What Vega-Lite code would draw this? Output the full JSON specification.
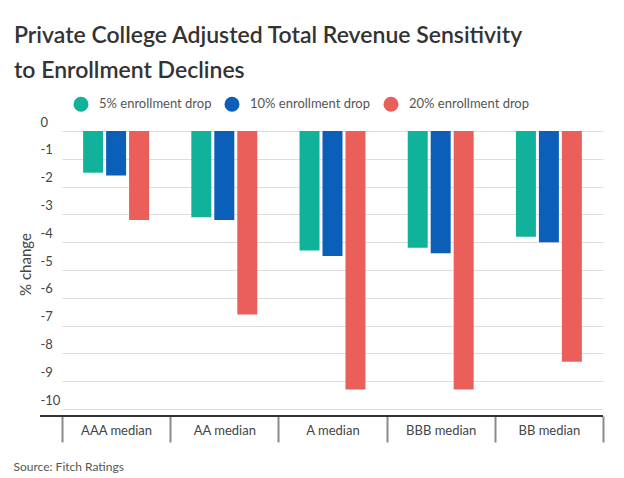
{
  "$schema": "https://vega.github.io/schema/vega-lite/v6.json",
  "width": 563,
  "height": 285,
  "autosize": "none",
  "padding": {"left": 40, "top": 131, "right": 21, "bottom": 62},
  "background": "#ffffff",
  "title": {
    "text": ["Private College Adjusted Total Revenue Sensitivity", "to Enrollment Declines"],
    "anchor": "start",
    "frame": "group",
    "dx": -26,
    "dy": -9,
    "fontSize": 23,
    "fontWeight": 600,
    "color": "#333333",
    "lineHeight": 35
  },
  "data": {
    "values": [
      {"rating": "AAA median", "scenario": "5% enrollment drop", "change": -1.5},
      {"rating": "AAA median", "scenario": "10% enrollment drop", "change": -1.6},
      {"rating": "AAA median", "scenario": "20% enrollment drop", "change": -3.2},
      {"rating": "AA median", "scenario": "5% enrollment drop", "change": -3.1},
      {"rating": "AA median", "scenario": "10% enrollment drop", "change": -3.2},
      {"rating": "AA median", "scenario": "20% enrollment drop", "change": -6.6},
      {"rating": "A median", "scenario": "5% enrollment drop", "change": -4.3},
      {"rating": "A median", "scenario": "10% enrollment drop", "change": -4.5},
      {"rating": "A median", "scenario": "20% enrollment drop", "change": -9.3},
      {"rating": "BBB median", "scenario": "5% enrollment drop", "change": -4.2},
      {"rating": "BBB median", "scenario": "10% enrollment drop", "change": -4.4},
      {"rating": "BBB median", "scenario": "20% enrollment drop", "change": -9.3},
      {"rating": "BB median", "scenario": "5% enrollment drop", "change": -3.8},
      {"rating": "BB median", "scenario": "10% enrollment drop", "change": -4.0},
      {"rating": "BB median", "scenario": "20% enrollment drop", "change": -8.3}
    ]
  },
  "layer": [
    {
      "mark": {"type": "bar"},
      "encoding": {
        "x": {
          "field": "rating",
          "type": "nominal",
          "sort": null,
          "scale": {"range": [22, 563], "paddingInner": 0, "paddingOuter": 0},
          "axis": {
            "domain": false,
            "tickBand": "extent",
            "tickSize": 26,
            "tickColor": "#8a8a8a",
            "tickWidth": 2,
            "labelPadding": -12,
            "labelBaseline": "middle",
            "labelFontSize": 13,
            "labelColor": "#444444",
            "labelAngle": 0,
            "title": "Source: Fitch Ratings",
            "titleAnchor": "start",
            "titleAlign": "left",
            "titleBaseline": "middle",
            "titleX": -27,
            "titleY": 50,
            "titleFontSize": 12,
            "titleFontWeight": "normal",
            "titleColor": "#555555"
          }
        },
        "xOffset": {
          "field": "scenario",
          "type": "nominal",
          "sort": ["5% enrollment drop", "10% enrollment drop", "20% enrollment drop"],
          "scale": {"paddingInner": 0.13, "paddingOuter": 0.92}
        },
        "y": {
          "field": "change",
          "type": "quantitative",
          "scale": {"domain": [-10.25, 0], "nice": false},
          "axis": {
            "values": [0, -1, -2, -3, -4, -5, -6, -7, -8, -9, -10],
            "labelExpr": "'' + datum.value",
            "labelOverlap": false,
            "title": "% change"
          }
        },
        "color": {
          "field": "scenario",
          "type": "nominal",
          "title": null,
          "scale": {
            "domain": ["5% enrollment drop", "10% enrollment drop", "20% enrollment drop"],
            "range": ["#10b39a", "#0b5fb8", "#eb5f5a"]
          },
          "legend": {
            "orient": "none",
            "direction": "horizontal",
            "legendX": 33,
            "legendY": -35,
            "symbolType": "circle",
            "symbolSize": 227,
            "symbolStrokeWidth": 0,
            "labelFontSize": 13,
            "labelColor": "#555555",
            "labelOffset": 10,
            "columnPadding": 12
          }
        }
      }
    },
    {
      "mark": {"type": "rule", "color": "#333333", "strokeWidth": 2},
      "encoding": {
        "y": {
          "datum": -10.25,
          "type": "quantitative",
          "axis": {
            "values": [0, -1, -2, -3, -4, -5, -6, -7, -8, -9, -10],
            "labelExpr": "'' + datum.value",
            "labelOverlap": false,
            "title": "% change"
          }
        }
      }
    }
  ],
  "config": {
    "font": "Lato",
    "view": {"stroke": null},
    "axisY": {
      "domain": false,
      "ticks": false,
      "grid": true,
      "gridColor": "#dddddd",
      "gridWidth": 1,
      "labelAlign": "left",
      "labelBaseline": "alphabetic",
      "labelPadding": 0,
      "labelOffset": -5,
      "labelFontSize": 13,
      "labelColor": "#444444",
      "titleX": -15,
      "titleY": 133,
      "titleAngle": -90,
      "titleAlign": "center",
      "titleBaseline": "middle",
      "titleFontSize": 15,
      "titleFontWeight": "normal",
      "titleColor": "#444444"
    }
  }
}
